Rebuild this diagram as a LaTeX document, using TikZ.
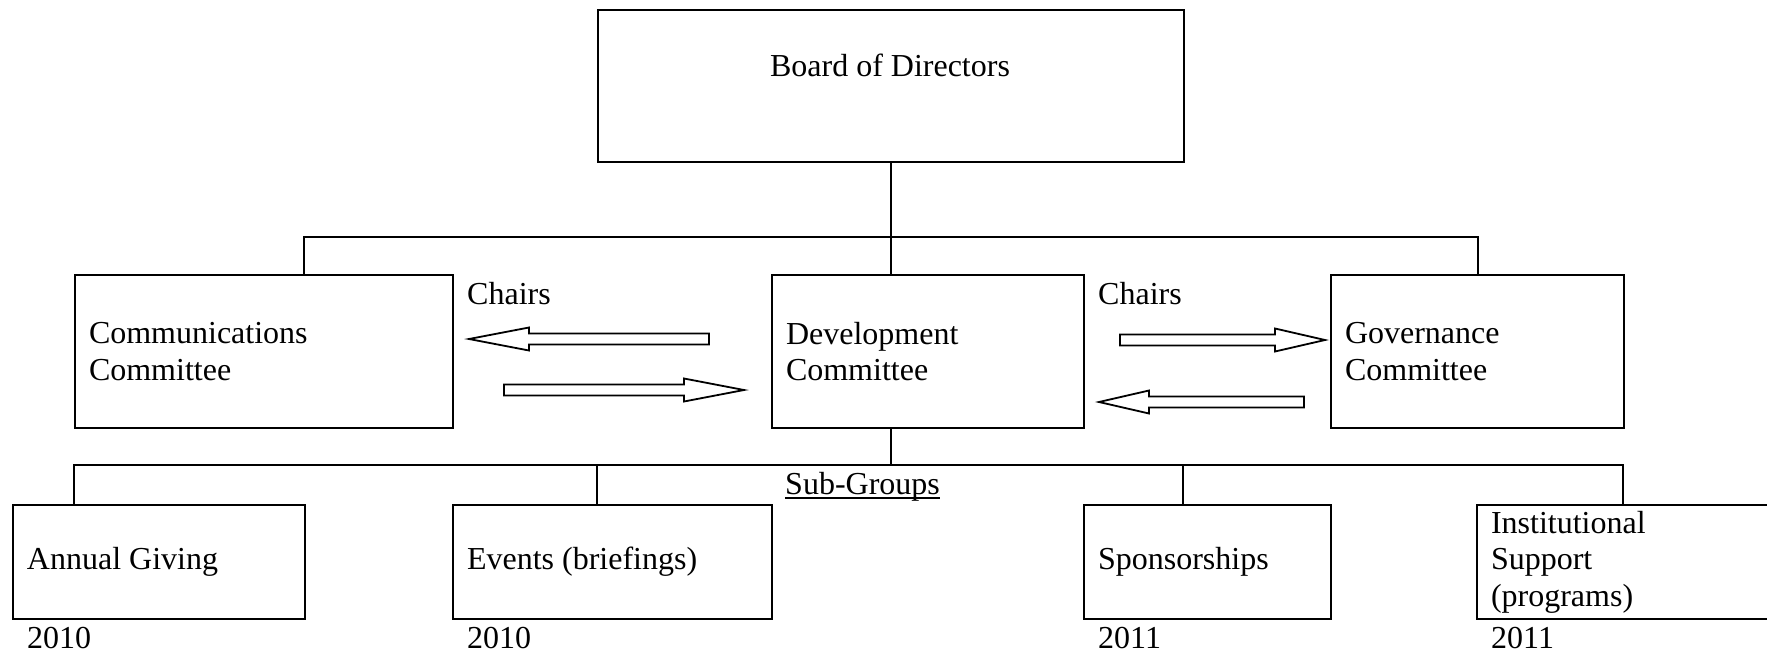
\documentclass[tikz,border=0pt]{standalone}
\usepackage{fontspec}
\setmainfont{Liberation Serif}
\newcommand\hollowarrow[2]{%
  \draw[arrowline] (0,-5.5) -- (#1-#2,-5.5) -- (#1-#2,-11.5) -- (#1,0) -- (#1-#2,11.5) -- (#1-#2,5.5) -- (0,5.5) -- cycle;}
\begin{document}
\begin{tikzpicture}[x=1pt,y=-1pt,
  every node/.style={font=\fontsize{32}{36.5}\selectfont},
  box/.style={draw, line width=2pt, anchor=north west, inner xsep=14pt, inner ysep=0pt, align=flush left},
  txt/.style={inner sep=0pt, anchor=west},
  conn/.style={line width=2pt},
  arrowline/.style={draw, line width=1.8pt, line join=miter, fill=white}]
\useasboundingbox (0,0) rectangle (1767,654);
% boxes
\node[box, minimum width=586pt, minimum height=152pt] (board) at (597,9) {};
\node[txt, anchor=center] (boardtxt) at (890,65) {Board of Directors};
\node[box, minimum width=378pt, minimum height=153pt, text width=350pt] (comm) at (74,274) {Communications\\Committee};
\node[box, minimum width=312pt, minimum height=153pt, text width=284pt] (dev) at (771,274) {Development\\Committee};
\node[box, minimum width=293pt, minimum height=153pt, text width=265pt] (gov) at (1330,274) {Governance\\Committee};
\node[box, minimum width=292pt, minimum height=114pt, text width=264pt] (ann) at (12,504) {Annual Giving};
\node[box, minimum width=319pt, minimum height=114pt, text width=291pt] (ev) at (452,504) {Events (briefings)};
\node[box, minimum width=247pt, minimum height=114pt, text width=219pt] (spon) at (1083,504) {Sponsorships};
\node[box, minimum width=400pt, minimum height=114pt, text width=372pt] (inst) at (1476,504) {Institutional\\Support\\(programs)};
% labels
\node[txt] (chairsL) at (467,294) {Chairs};
\node[txt] (chairsR) at (1098,294) {Chairs};
\node[txt, anchor=base west] (subg) at (785,494) {Sub-Groups};
\draw[line width=1.3pt] ([yshift=-4pt]subg.base west) -- ([yshift=-4pt]subg.base east);
\node[txt] (y1) at (27,638) {2010};
\node[txt] (y2) at (467,638) {2010};
\node[txt] (y3) at (1098,638) {2011};
\node[txt] (y4) at (1491,638) {2011};
% connectors, top tree
\coordinate (b1) at (board.south |- 0,237);
\coordinate (commtop) at ([xshift=230pt]comm.north west);
\coordinate (devtop) at (b1 |- dev.north);
\draw[conn] (board.south) -- (b1);
\draw[conn] (commtop) |- (b1) -| (gov.north);
\draw[conn] (b1) -- (devtop);
% connectors, bottom tree
\coordinate (devbot) at (b1 |- dev.south);
\coordinate (b2) at (b1 |- 0,465);
\coordinate (anntop) at ([xshift=62pt]ann.north west);
\coordinate (evtop) at ([xshift=145pt]ev.north west);
\coordinate (spontop) at ([xshift=100pt]spon.north west);
\coordinate (insttop) at ([xshift=147pt]inst.north west);
\draw[conn] (devbot) -- (b2);
\draw[conn] (anntop) |- (b2) -| (insttop);
\draw[conn] (evtop) -- (evtop |- b2);
\draw[conn] (spontop) -- (spontop |- b2);
% block arrows
\begin{scope}[shift={(709,339)}, xscale=-1]\hollowarrow{240}{60}\end{scope}
\begin{scope}[shift={(504,390)}]\hollowarrow{240}{60}\end{scope}
\begin{scope}[shift={(1120,340)}]\hollowarrow{205}{50}\end{scope}
\begin{scope}[shift={(1304,402)}, xscale=-1]\hollowarrow{205}{50}\end{scope}
\end{tikzpicture}
\end{document}
